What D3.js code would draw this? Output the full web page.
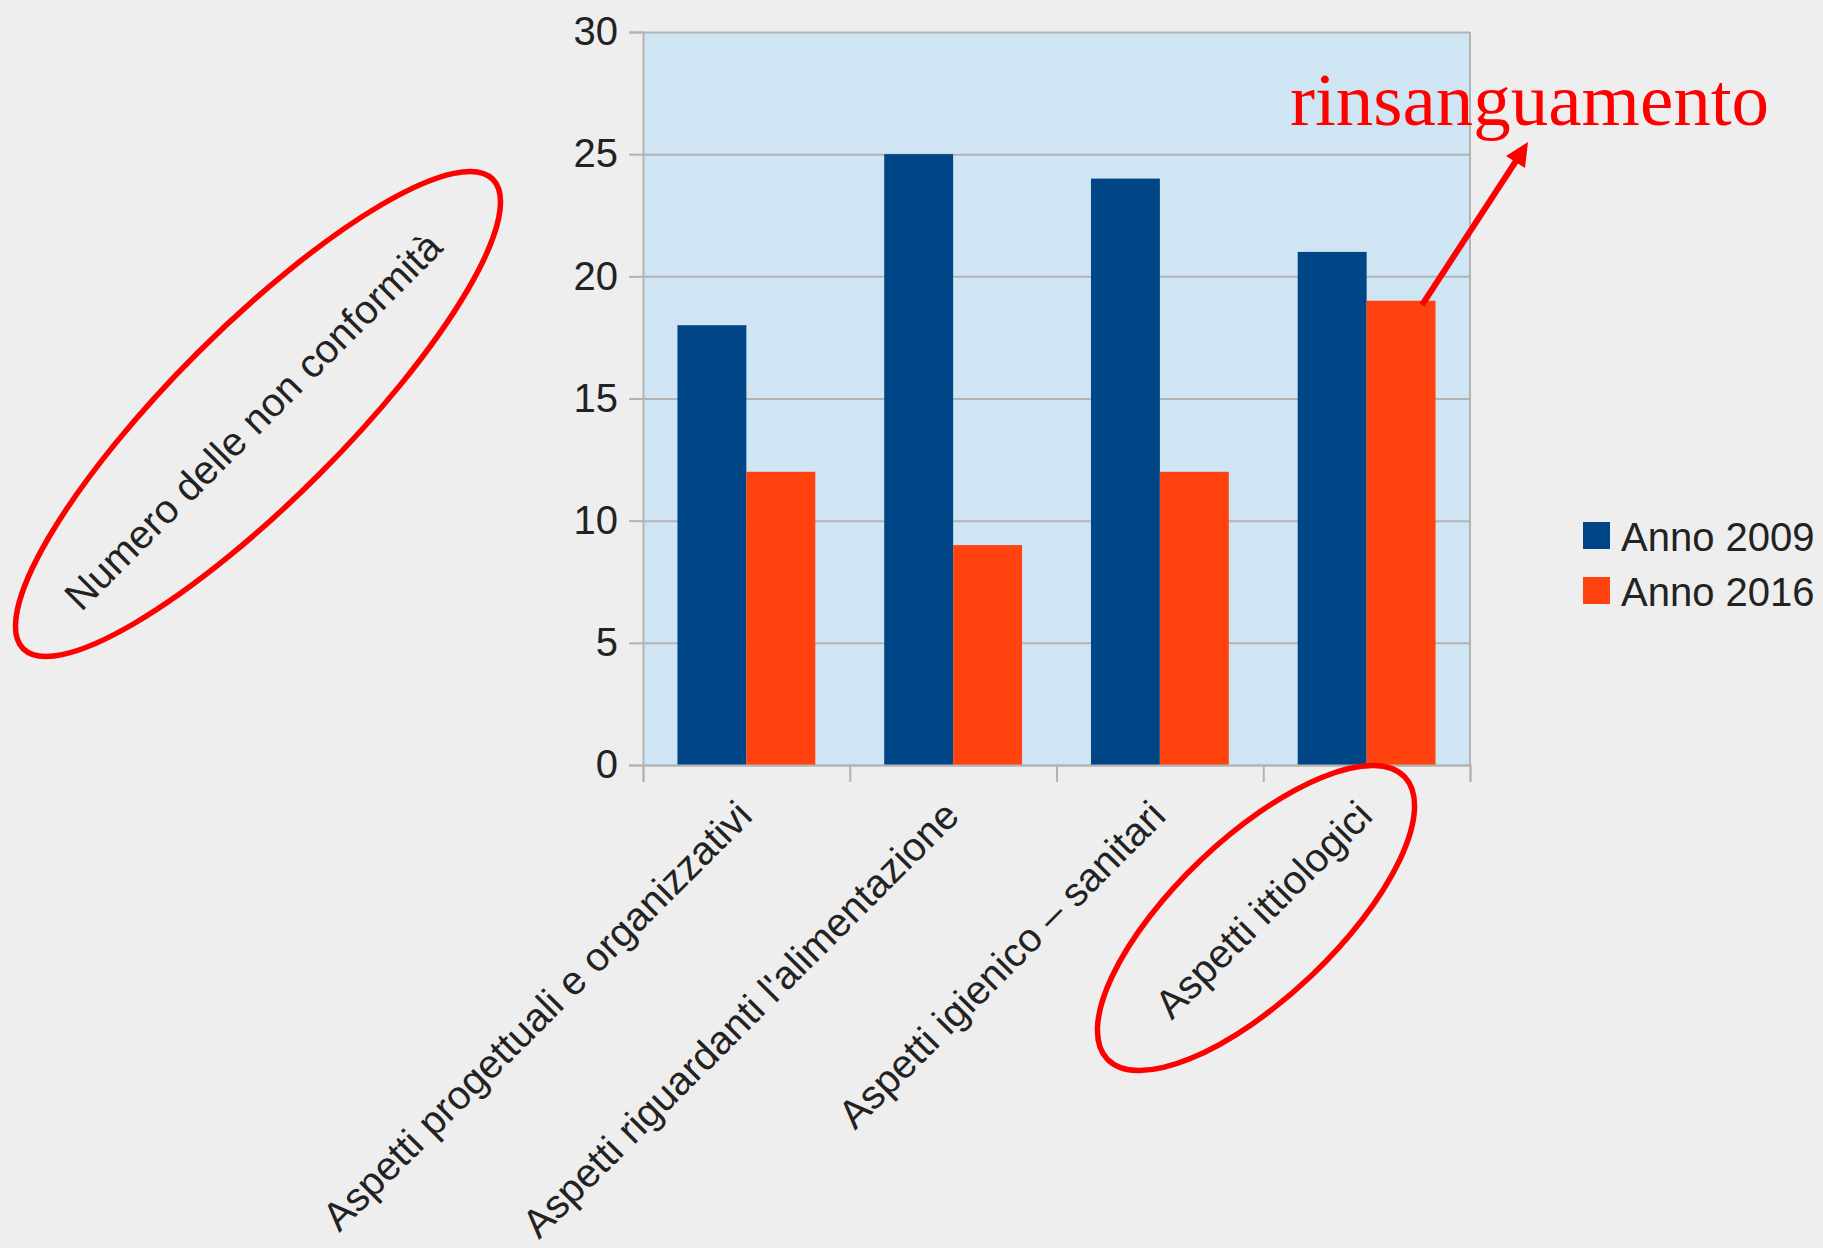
<!doctype html>
<meta charset="utf-8">
<title>Non conformità 2009 / 2016</title>
<script src="https://cdn.jsdelivr.net/npm/d3@7"></script>
<style>
  body { margin: 0; background: #eeeeee; }
  text { font-family: "Liberation Sans", Arial, sans-serif; fill: #222; }
</style>
<body>
<script>
var categories = [
  "Aspetti progettuali e organizzativi",
  "Aspetti riguardanti l'alimentazione",
  "Aspetti igienico – sanitari",
  "Aspetti ittiologici"
];
var series = ["Anno 2009", "Anno 2016"];
var anno2009 = [18, 25, 24, 21];
var anno2016 = [12, 9, 12, 19];
var yTicks = [0, 5, 10, 15, 20, 25, 30];
var colors = ["#004586", "#ff420e"];

var W = 1823, H = 1248;
var margin = { left: 643, top: 32 };
var width = 827, height = 733;

var svg = d3.select("body").append("svg")
  .attr("width", W)
  .attr("height", H);

var g = svg.append("g")
  .attr("transform", "translate(" + margin.left + "," + margin.top + ")");

var x0 = d3.scaleBand()
  .domain(categories)
  .range([0, width])
  .paddingInner(1 / 3)
  .paddingOuter(1 / 6);

var x1 = d3.scaleBand()
  .domain(series)
  .range([0, x0.bandwidth()]);

var y = d3.scaleLinear()
  .domain([0, 30])
  .range([height, 0]);

// plot area background
g.append("rect")
  .attr("width", width)
  .attr("height", height)
  .attr("fill", "#cfe5f3");

// horizontal grid
g.append("g")
  .call(d3.axisLeft(y).tickValues(yTicks).tickSize(-width).tickFormat(""))
  .call(function(s) {
    s.select(".domain").remove();
    s.selectAll("line").attr("stroke", "#b3b3b3").attr("stroke-width", 2);
  });

// bars
var rows = categories.map(function(c, i) {
  return { cat: c, values: [anno2009[i], anno2016[i]] };
});

g.selectAll("g.group")
  .data(rows)
  .enter().append("g")
  .attr("class", "group")
  .attr("transform", function(d) { return "translate(" + x0(d.cat) + ",0)"; })
  .selectAll("rect")
  .data(function(d) { return d.values.map(function(v, j) { return { s: series[j], v: v, j: j }; }); })
  .enter().append("rect")
  .attr("x", function(d) { return x1(d.s); })
  .attr("y", function(d) { return y(d.v); })
  .attr("width", x1.bandwidth())
  .attr("height", function(d) { return height - y(d.v); })
  .attr("fill", function(d) { return colors[d.j]; });

// right border
g.append("line")
  .attr("x1", width).attr("x2", width)
  .attr("y1", 0).attr("y2", height)
  .attr("stroke", "#b3b3b3").attr("stroke-width", 2);

// x axis: ticks on category boundaries
var xb = d3.scaleLinear().domain([0, categories.length]).range([0, width]);
g.append("g")
  .attr("transform", "translate(0," + height + ")")
  .call(d3.axisBottom(xb).tickValues(d3.range(categories.length + 1)).tickSize(17).tickFormat(""))
  .call(function(s) {
    s.selectAll("line, path").attr("stroke", "#b3b3b3").attr("stroke-width", 2);
  });

// y axis
g.append("g")
  .call(d3.axisLeft(y).tickValues(yTicks).tickSize(14).tickPadding(11))
  .call(function(s) {
    s.select(".domain").attr("stroke", "#b3b3b3").attr("stroke-width", 2);
    s.selectAll("line").attr("stroke", "#b3b3b3").attr("stroke-width", 2);
    s.selectAll("text").attr("font-size", 40).attr("font-family", "Liberation Sans, Arial, sans-serif").attr("fill", "#222");
  });

// rotated category labels
g.selectAll("text.cat")
  .data(categories)
  .enter().append("text")
  .attr("class", "cat")
  .attr("text-anchor", "end")
  .attr("font-size", 40)
  .attr("transform", function(d) {
    return "translate(" + (x0(d) + x0.bandwidth() / 2 + 8) + "," + (height + 53) + ") rotate(-45)";
  })
  .text(function(d) { return d; });

// y axis title, rotated
svg.append("text")
  .attr("text-anchor", "middle")
  .attr("font-size", 40)
  .attr("dy", "0.35em")
  .attr("transform", "translate(253,421) rotate(-45)")
  .text("Numero delle non conformità");

// legend
var legend = svg.append("g").attr("transform", "translate(1583,522)");
legend.selectAll("rect")
  .data(series)
  .enter().append("rect")
  .attr("y", function(d, i) { return i * 55; })
  .attr("width", 27).attr("height", 27)
  .attr("fill", function(d, i) { return colors[i]; });
legend.selectAll("text")
  .data(series)
  .enter().append("text")
  .attr("x", 38)
  .attr("y", function(d, i) { return 29 + i * 55; })
  .attr("font-size", 40)
  .text(function(d) { return d; });

// annotations
var red = "#ff0000";
svg.append("ellipse")
  .attr("rx", 332).attr("ry", 86)
  .attr("transform", "translate(258,414) rotate(-45)")
  .attr("fill", "none").attr("stroke", red).attr("stroke-width", 5.5);

svg.append("ellipse")
  .attr("rx", 205).attr("ry", 80)
  .attr("transform", "translate(1256,918) rotate(-43.5)")
  .attr("fill", "none").attr("stroke", red).attr("stroke-width", 5.5);

svg.append("line")
  .attr("x1", 1422).attr("y1", 305)
  .attr("x2", 1516).attr("y2", 161)
  .attr("stroke", red).attr("stroke-width", 6);
svg.append("path")
  .attr("d", "M1528,142 L1525,168 L1506,156 Z")
  .attr("fill", red);

svg.append("text")
  .attr("x", 1290).attr("y", 125)
  .attr("font-size", 75)
  .style("font-family", "'Liberation Serif', 'Times New Roman', serif")
  .style("fill", red)
  .text("rinsanguamento");
</script>
</body>
